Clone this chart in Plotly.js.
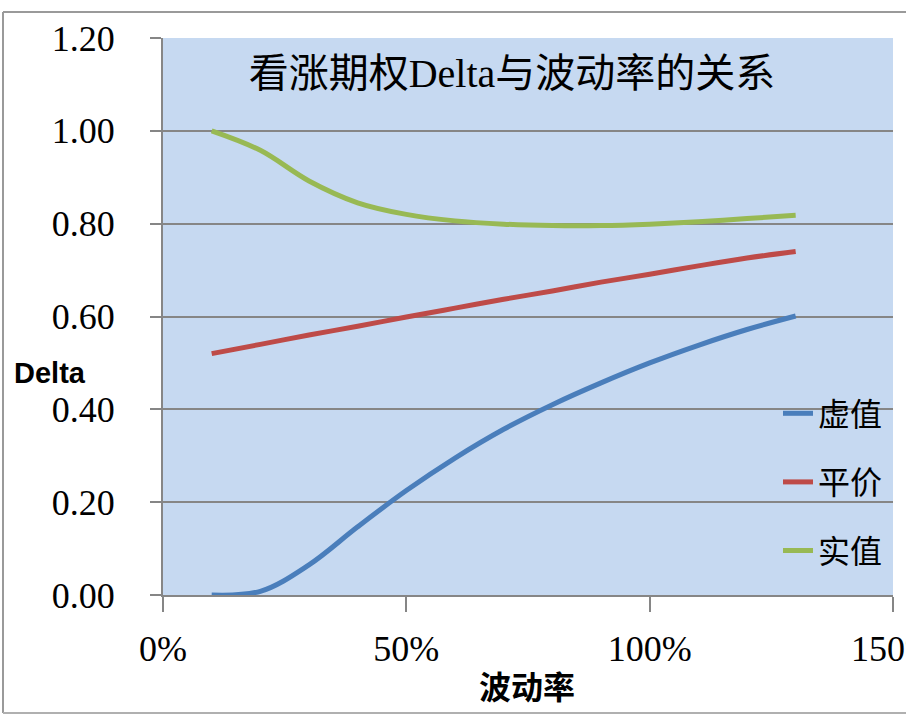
<!DOCTYPE html>
<html>
<head>
<meta charset="utf-8">
<script src="https://cdn.plot.ly/plotly-3.0.1.min.js"></script>
<style>html,body{margin:0;padding:0;background:#fff;}#chart{width:906px;height:714px;}</style>
</head>
<body>
<div id="chart"></div>
<script>
const volatility = [0.1, 0.2, 0.3, 0.4, 0.5, 0.6, 0.7, 0.8, 0.9, 1.0, 1.1, 1.2, 1.3];
const otmDelta = [0.000, 0.008, 0.065, 0.147, 0.225, 0.295, 0.357, 0.410, 0.457, 0.500, 0.538, 0.572, 0.601];
const atmDelta = [0.520, 0.540, 0.560, 0.579, 0.599, 0.618, 0.637, 0.655, 0.674, 0.691, 0.709, 0.726, 0.740];
const itmDelta = [1.000, 0.958, 0.892, 0.845, 0.820, 0.806, 0.799, 0.796, 0.796, 0.799, 0.804, 0.811, 0.818];
const seriesNames = ['虚值', '平价', '实值'];
const seriesColors = ['#4a7ebb', '#be4b48', '#98b954'];
const chartTitle = '看涨期权Delta与波动率的关系';
const xTitle = '波动率';
const yTitle = 'Delta';

const serif = 'Liberation Serif, serif';
const cjk = 'Liberation Serif, Noto Sans CJK SC, serif';

const allSeries = [otmDelta, atmDelta, itmDelta];
const traces = allSeries.map((ys, i) => ({
  x: volatility, y: ys, type: 'scatter', mode: 'lines',
  name: seriesNames[i], legendgroup: 'g' + i,
  line: {color: seriesColors[i], width: 5, shape: 'spline', smoothing: 1}
}));

const L = 163, R = 893, T = 38, B = 595;
const px = v => (v - L) / (R - L);
const py = v => (B - v) / (B - T);

const layout = {
  width: 906, height: 714,
  margin: {l: L, r: 906 - R, t: T, b: 714 - B},
  paper_bgcolor: '#ffffff',
  plot_bgcolor: '#c6d9f1',
  showlegend: true,
  legend: {
    x: px(778), y: py(386), xanchor: 'left', yanchor: 'top',
    bgcolor: 'rgba(0,0,0,0)', font: {family: cjk, size: 32, color: '#000'},
    tracegroupgap: 24, traceorder: 'grouped'
  },
  xaxis: {
    range: [0, 1.5], tickvals: [0, 0.5, 1.0, 1.5], tickformat: '.0%',
    showgrid: false, zeroline: false, showline: true, linecolor: '#868686', linewidth: 2,
    ticks: 'outside', ticklen: 15, tickcolor: '#868686', tickwidth: 2,
    tickfont: {family: serif, size: 36, color: '#000'}, ticklabelstandoff: 6,
    ticklabeloverflow: 'allow'
  },
  yaxis: {
    range: [0, 1.2], tickvals: [0, 0.2, 0.4, 0.6, 0.8, 1.0, 1.2], tickformat: '.2f',
    showgrid: true, gridcolor: '#868686', gridwidth: 2, zeroline: false,
    showline: true, linecolor: '#868686', linewidth: 2,
    ticks: 'outside', ticklen: 11, tickcolor: '#868686', tickwidth: 2,
    tickfont: {family: serif, size: 36, color: '#000'}, ticklabelstandoff: 28
  },
  title: {
    text: chartTitle, font: {family: cjk, size: 40, color: '#000'},
    x: px(512), xref: 'paper', xanchor: 'center',
    y: 1 - 73 / 714, yref: 'container', yanchor: 'middle'
  },
  annotations: [
    {text: yTitle, xref: 'paper', yref: 'paper', x: px(50), y: py(373), xanchor: 'center', yanchor: 'middle',
     showarrow: false, font: {family: 'Liberation Sans, Arial, sans-serif', size: 29, color: '#000', weight: 'bold'}},
    {text: '<b>' + xTitle + '</b>', xref: 'paper', yref: 'paper', x: px(527), y: py(685), xanchor: 'center', yanchor: 'middle',
     showarrow: false, font: {family: 'Noto Sans CJK SC, sans-serif', size: 32, color: '#000'}}
  ],
  shapes: [
    {type: 'line', xref: 'paper', yref: 'paper', x0: px(3), x1: px(906), y0: py(12), y1: py(12), line: {color: '#9a9a9a', width: 2}},
    {type: 'line', xref: 'paper', yref: 'paper', x0: px(3), x1: px(3), y0: py(12), y1: py(713), line: {color: '#9a9a9a', width: 2}},
    {type: 'line', xref: 'paper', yref: 'paper', x0: px(3), x1: px(906), y0: py(713), y1: py(713), line: {color: '#b0b0b0', width: 2}}
  ]
};

Plotly.newPlot('chart', traces, layout, {displayModeBar: false, staticPlot: true});
</script>
</body>
</html>
